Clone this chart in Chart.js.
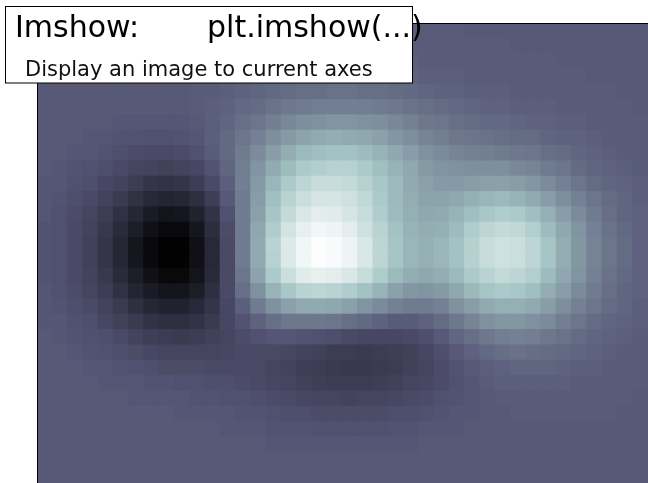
<!DOCTYPE html>
<html>
<head>
<meta charset="utf-8">
<style>html,body{margin:0;padding:0;background:#fff;overflow:hidden}#wrap{width:648px;height:483px;position:relative}canvas{display:block}</style>
<script src="https://cdn.jsdelivr.net/npm/chart.js@4"></script>
</head>
<body>
<div id="wrap"><canvas id="c" width="648" height="483"></canvas></div>
<script>
// Image cell levels (percent of the bone colour range), top row first.
const row00=[39,39,39,39,39,39,39,39,39,39,39,39,39,40,40,40,40,40,40,40,40,40,40,40,40,40,40,40,39,39,39,39,39,39,39,39,39,39,39,39];
const row01=[39,39,39,39,39,39,39,39,39,39,39,40,40,40,40,40,40,40,40,40,40,40,40,40,40,40,40,40,40,40,40,39,39,39,39,39,39,39,39,39];
const row02=[39,39,39,39,39,39,39,39,39,39,40,40,40,40,40,41,41,41,41,41,41,41,41,41,41,40,40,40,40,40,40,40,40,40,39,39,39,39,39,39];
const row03=[39,39,39,39,39,39,39,39,39,39,40,40,40,41,41,42,42,43,43,43,43,43,43,42,42,41,41,41,40,40,40,40,40,40,40,40,39,39,39,39];
const row04=[39,39,39,39,39,39,39,39,39,39,40,40,41,42,43,44,45,46,46,47,47,46,46,45,44,43,42,42,41,41,41,40,40,40,40,40,40,40,39,39];
const row05=[39,39,39,39,39,39,39,39,39,39,40,41,42,44,45,47,49,50,51,51,51,51,50,49,47,46,45,44,43,42,42,41,41,41,40,40,40,40,40,39];
const row06=[39,39,39,39,39,38,38,38,38,38,39,41,43,46,48,51,54,56,57,58,58,57,56,54,52,49,48,46,45,44,44,43,42,42,41,41,40,40,40,40];
const row07=[39,39,39,38,38,37,37,36,36,37,38,41,44,48,52,56,60,63,65,66,65,64,62,59,56,53,51,49,48,47,46,45,45,43,42,42,41,40,40,40];
const row08=[39,39,38,38,37,35,34,33,33,34,36,40,44,50,55,61,66,70,72,73,73,71,68,64,61,57,55,53,52,51,50,49,48,46,45,43,42,41,40,40];
const row09=[39,38,37,36,35,33,31,30,29,30,32,37,43,51,58,65,71,76,78,79,79,76,72,68,64,60,58,57,56,56,56,54,53,50,48,45,43,42,41,40];
const row10=[38,38,36,35,32,30,27,24,23,24,27,33,41,51,60,69,76,81,84,84,83,79,75,70,65,62,60,60,61,62,62,61,59,55,52,48,45,43,42,41];
const row11=[38,37,35,33,30,26,22,18,16,17,21,28,39,50,61,72,80,85,88,88,86,82,76,70,66,63,63,64,67,69,70,68,65,61,56,52,48,45,43,41];
const row12=[38,36,34,31,27,22,17,12,9,10,15,23,36,50,62,74,83,89,92,91,88,84,77,71,67,64,65,68,72,75,77,76,72,67,61,55,50,46,43,42];
const row13=[37,36,33,30,25,19,13,7,4,4,10,20,34,50,64,77,87,93,96,95,92,86,80,73,68,66,67,71,77,81,83,82,78,71,64,58,52,47,44,42];
const row14=[37,36,33,29,24,17,10,4,1,1,7,18,33,50,65,80,90,96,99,98,95,89,81,74,69,67,69,73,79,84,86,85,81,74,66,59,53,48,45,42];
const row15=[37,36,33,29,24,17,10,4,1,1,7,18,33,50,65,79,90,96,99,98,95,89,81,74,69,67,69,73,79,84,86,85,81,74,66,59,53,48,45,42];
const row16=[37,36,33,30,25,19,13,7,4,4,9,19,33,48,63,76,85,91,93,92,89,84,77,70,66,64,66,70,76,80,83,81,78,71,64,58,52,47,44,42];
const row17=[38,36,34,31,27,22,16,12,9,9,13,21,33,46,57,68,75,80,81,80,77,73,68,62,59,58,60,64,70,74,76,75,72,66,61,55,50,46,43,42];
const row18=[38,37,35,33,30,26,21,17,15,15,18,24,32,41,50,57,62,65,65,64,62,58,55,52,50,50,52,57,61,65,67,67,65,61,56,52,48,45,43,41];
const row19=[38,38,36,35,32,29,26,23,21,21,23,26,32,37,42,46,49,49,49,48,46,44,42,40,40,42,45,49,53,57,59,59,57,55,51,48,45,43,42,41];
const row20=[39,38,37,36,35,33,30,28,27,26,27,29,31,34,36,38,38,37,36,35,33,32,32,32,33,35,39,43,46,49,51,52,51,49,47,45,43,42,41,40];
const row21=[39,39,38,37,36,35,34,32,31,31,31,31,32,33,33,33,32,30,29,27,27,26,27,28,29,32,35,39,42,44,46,47,46,45,44,43,42,41,40,40];
const row22=[39,39,39,38,38,37,36,35,34,34,34,33,33,33,33,31,30,28,27,26,25,25,26,27,29,31,34,37,39,41,42,43,43,43,42,41,41,40,40,40];
const row23=[39,39,39,39,38,38,38,37,37,36,36,35,35,34,33,32,31,29,28,27,27,27,28,29,31,32,34,36,38,40,41,41,41,41,41,40,40,40,40,40];
const row24=[39,39,39,39,39,39,38,38,38,38,37,37,36,36,35,34,33,32,31,31,30,31,31,32,33,34,36,37,38,39,40,40,40,40,40,40,40,40,40,39];
const row25=[39,39,39,39,39,39,39,39,39,38,38,38,38,37,37,36,35,35,34,34,34,34,34,35,35,36,37,38,38,39,39,40,40,40,40,40,40,40,39,39];
const row26=[39,39,39,39,39,39,39,39,39,39,39,39,38,38,38,37,37,37,36,36,36,36,36,37,37,38,38,38,39,39,39,39,39,39,39,39,39,39,39,39];
const row27=[39,39,39,39,39,39,39,39,39,39,39,39,39,39,39,38,38,38,38,38,38,38,38,38,38,39,39,39,39,39,39,39,39,39,39,39,39,39,39,39];
const row28=[39,39,39,39,39,39,39,39,39,39,39,39,39,39,39,39,39,39,39,39,39,39,39,39,39,39,39,39,39,39,39,39,39,39,39,39,39,39,39,39];
const row29=[39,39,39,39,39,39,39,39,39,39,39,39,39,39,39,39,39,39,39,39,39,39,39,39,39,39,39,39,39,39,39,39,39,39,39,39,39,39,39,39];
const rows=[row00,row01,row02,row03,row04,row05,row06,row07,row08,row09,row10,row11,row12,row13,row14,row15,row16,row17,row18,row19,row20,row21,row22,row23,row24,row25,row26,row27,row28,row29];
const columns=row00.map((_,i)=>String(i));

// Bone colormap stops: [position, level]
const boneR=[[0,0],[0.746,0.652],[1,1]];
const boneG=[[0,0],[0.365,0.319],[0.746,0.782],[1,1]];
const boneB=[[0,0],[0.365,0.444],[1,1]];
const titleMain="Imshow:";
const titleCode="plt.imshow(...)";
const titleSub="Display an image to current axes";

function lerpStops(s,t){
  for(let i=1;i<s.length;i++){
    if(t<=s[i][0]){const a=s[i-1],b=s[i];return a[1]+(b[1]-a[1])*(t-a[0])/(b[0]-a[0]);}
  }
  return s[s.length-1][1];
}
function bone(v){
  const t=Math.max(0,Math.min(1,v/100));
  return `rgb(${Math.round(lerpStops(boneR,t)*255)},${Math.round(lerpStops(boneG,t)*255)},${Math.round(lerpStops(boneB,t)*255)})`;
}
const datasets=rows.slice().reverse().map(r=>({
  data:r.map(()=>1),
  backgroundColor:r.map(bone),
  borderWidth:0,
  inflateAmount:0.6,
  barPercentage:1,
  categoryPercentage:1,
  stack:'image'
}));
const titleBox={
  id:'titleBox',
  afterDraw(chart){
    const g=chart.ctx;
    g.save();
    g.fillStyle='#fff';
    g.fillRect(5,6,407,77);
    g.strokeStyle='#000';
    g.lineWidth=1;
    g.strokeRect(5.5,6.5,407,76.5);
    g.fillStyle='#000';
    g.textBaseline='alphabetic';
    g.textAlign='left';
    g.font='30px "DejaVu Sans"';
    g.fillText(titleMain,15,37);
    g.fillText(titleCode,207,37);
    g.font='21px "DejaVu Sans"';
    g.fillStyle='#111';
    g.fillText(titleSub,25,76);
    g.restore();
  }
};
const axisBorder={display:true,color:'#000',width:1,z:1};
new Chart(document.getElementById('c'),{
  type:'bar',
  data:{labels:columns,datasets},
  plugins:[titleBox],
  options:{
    responsive:false,
    animation:false,
    layout:{padding:{left:37,top:23,right:0,bottom:0}},
    plugins:{legend:{display:false},tooltip:{enabled:false},title:{display:false}},
    scales:{
      x:{position:'top',stacked:true,grid:{display:false,drawTicks:false,tickLength:0},border:axisBorder,ticks:{display:false,padding:0}},
      y:{stacked:true,min:0,max:rows.length,grid:{display:false,drawTicks:false,tickLength:0},border:axisBorder,ticks:{display:false,padding:0}}
    }
  }
});
</script>
</body>
</html>
